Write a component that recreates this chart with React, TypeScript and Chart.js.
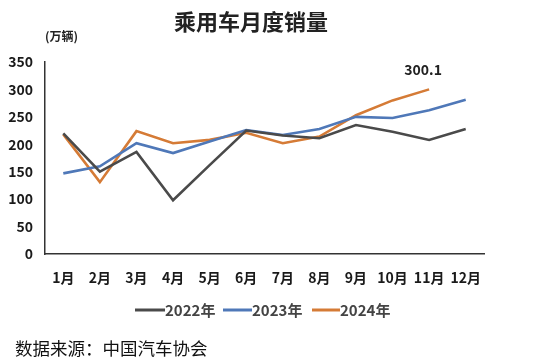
import React, { useEffect, useRef } from "react";
import { Chart, registerables } from "chart.js";

Chart.register(...registerables);

const months = ["1月", "2月", "3月", "4月", "5月", "6月", "7月", "8月", "9月", "10月", "11月", "12月"];
const sales2022 = [220, 150, 186, 98, 162, 225, 216, 211, 235, 223, 208, 228];
const sales2023 = [147, 160, 202, 184, 205, 226, 217, 228, 250, 248, 262, 281];
const sales2024 = [218, 131, 224, 202, 208, 221, 202, 214, 253, 280, 300.1];
const yTicks = [0, 50, 100, 150, 200, 250, 300, 350];
const seriesNames = ["2022年", "2023年", "2024年"];
const seriesColors = ["#4a4a4a", "#4f78b8", "#d57b36"];
const titleText = "乘用车月度销量";
const unitText = "(万辆)";
const sourceText = "数据来源：中国汽车协会";
const calloutText = "300.1";

const FONT = '"Noto Sans CJK SC", "Noto Sans", sans-serif';

const overlayPlugin = {
  id: "overlayText",
  afterDraw(chart: any) {
    const ctx = chart.ctx;
    ctx.save();
    // title
    ctx.fillStyle = "#222";
    ctx.font = `bold 22px ${FONT}`;
    ctx.textAlign = "center";
    ctx.textBaseline = "middle";
    ctx.fillText(titleText, 251, 22);
    // unit
    ctx.font = `bold 12px ${FONT}`;
    ctx.textAlign = "left";
    ctx.fillText(unitText, 45, 36);
    // callout at last 2024 point
    const meta = chart.getDatasetMeta(2);
    const last = meta.data[meta.data.length - 1];
    if (last) {
      ctx.font = `bold 14px ${FONT}`;
      ctx.textAlign = "center";
      ctx.fillStyle = "#222";
      ctx.fillText(calloutText, last.x - 6, last.y - 20);
    }
    // legend
    const legendItems = [
      { x: 135, w: 30 },
      { x: 223, w: 29 },
      { x: 312, w: 28 },
    ];
    ctx.font = `bold 15px ${FONT}`;
    ctx.textAlign = "left";
    legendItems.forEach((it, i) => {
      ctx.strokeStyle = chart.data.datasets[i].borderColor;
      ctx.lineWidth = 3;
      ctx.beginPath();
      ctx.moveTo(it.x, 310);
      ctx.lineTo(it.x + it.w, 310);
      ctx.stroke();
      ctx.fillStyle = "#444";
      ctx.fillText(chart.data.datasets[i].label, it.x + it.w, 310);
    });
    // source
    ctx.fillStyle = "#111";
    ctx.font = `17.5px ${FONT}`;
    ctx.textAlign = "left";
    ctx.fillText(sourceText, 15, 348);
    ctx.restore();
  },
};

export default function App() {
  const ref = useRef<HTMLCanvasElement | null>(null);
  useEffect(() => {
    if (!ref.current) return;
    const chart = new Chart(ref.current, {
      type: "line",
      data: {
        labels: months,
        datasets: [sales2022, sales2023, sales2024].map((d, i) => ({
          label: seriesNames[i],
          data: d,
          borderColor: seriesColors[i],
          backgroundColor: seriesColors[i],
          borderWidth: 2.6,
          pointRadius: 0,
          tension: 0,
          fill: false,
        })),
      },
      options: {
        responsive: false,
        animation: false,
        layout: { padding: { left: 0, top: 62, right: 64, bottom: 0 } },
        plugins: {
          legend: { display: false },
          title: { display: false },
          tooltip: { enabled: false },
        },
        scales: {
          x: {
            offset: true,
            grid: { display: false, drawTicks: false },
            border: { display: true, color: "#333", width: 1.5 },
            ticks: {
              color: "#1a1a1a",
              font: { family: FONT, size: 14, weight: "bold" },
              padding: 15,
              maxRotation: 0,
              autoSkip: false,
            },
            afterFit: (s: any) => {
              s.height = 361 - 254;
            },
          },
          y: {
            min: 0,
            max: 350,
            afterBuildTicks: (s: any) => {
              s.ticks = yTicks.map((v) => ({ value: v }));
            },
            grid: { display: false, drawTicks: false },
            border: { display: true, color: "#333", width: 1.5 },
            ticks: {
              color: "#1a1a1a",
              font: { family: FONT, size: 14, weight: "bold" },
              padding: 12,
            },
            afterFit: (s: any) => {
              s.width = 45;
            },
          },
        },
      },
      plugins: [overlayPlugin],
    });
    return () => chart.destroy();
  }, []);
  return (
    <div style={{ position: "fixed", left: 0, top: 0, width: 548, height: 361, background: "#fff" }}>
      <canvas ref={ref} width={548} height={361} style={{ display: "block" }} />
    </div>
  );
}
